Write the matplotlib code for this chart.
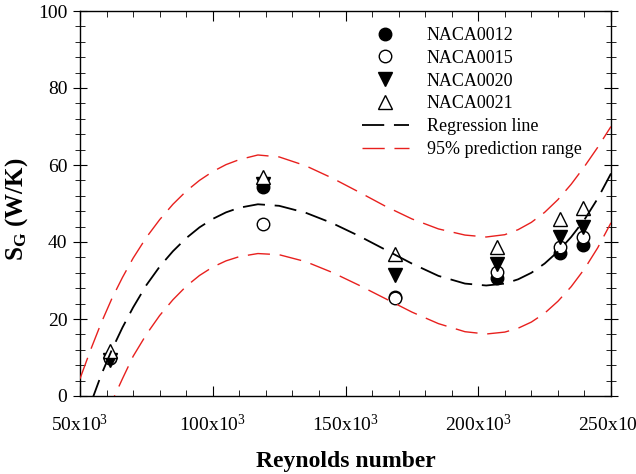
import numpy as np
import matplotlib
matplotlib.use("Agg")
import matplotlib.pyplot as plt
from matplotlib.ticker import MultipleLocator

plt.rcParams['font.family'] = ['Liberation Serif', 'DejaVu Serif']
plt.rcParams['mathtext.fontset'] = 'custom'
plt.rcParams['mathtext.rm'] = 'Liberation Serif'
plt.rcParams['mathtext.bf'] = 'Liberation Serif:bold'
plt.rcParams['lines.scale_dashes'] = False

# Reynolds number of the measured points (x10^3)
re_pts = [61.3, 119.0, 168.6, 206.9, 230.8, 239.3]
naca0012 = [10.0, 54.3, 25.8, 30.6, 37.1, 39.2]
naca0015 = [9.9, 44.6, 25.4, 32.3, 38.8, 41.2]
naca0020 = [9.4, 55.0, 31.4, 34.3, 41.2, 43.8]
naca0021 = [11.8, 56.9, 37.0, 38.8, 45.9, 48.8]

# regression line and 95 % prediction band (x10^3)
curve_x = [50, 54, 58, 62, 66, 70, 75, 80, 85, 90, 95, 100, 105, 110, 117,
           125, 135, 145, 155, 165, 175, 185, 195, 203, 210, 215, 220, 225,
           230, 235, 240, 245, 250]
reg_y = [-9.0, -2.0, 5.5, 12.0, 17.8, 23.0, 28.8, 33.6, 37.6, 41.0, 43.8,
         46.0, 47.7, 48.9, 49.8, 49.4, 47.6, 44.9, 41.6, 38.0, 34.4, 31.2,
         29.2, 28.7, 29.2, 30.3, 32.0, 34.4, 37.5, 41.3, 45.8, 51.3, 57.8]
upper_y = [4.5, 12.0, 19.0, 25.3, 30.8, 35.8, 41.2, 45.8, 49.8, 53.2, 56.0,
           58.3, 60.1, 61.4, 62.6, 62.1, 59.8, 56.6, 53.0, 49.3, 46.0, 43.4,
           41.8, 41.3, 41.9, 43.2, 45.1, 47.7, 51.0, 55.0, 59.6, 64.6, 70.0]
lower_y = [-22.0, -15.0, -8.5, -1.5, 4.5, 10.3, 16.0, 20.9, 25.0, 28.5, 31.3,
           33.5, 35.1, 36.2, 37.0, 36.7, 34.9, 32.1, 28.8, 25.3, 21.8, 18.8,
           16.7, 16.1, 16.6, 17.6, 19.2, 21.5, 24.6, 28.4, 33.0, 38.5, 45.0]

xticks = [50, 100, 150, 200, 250]
xtick_labels = [r'$\mathregular{%dx10^3}$' % v for v in xticks]

fig = plt.figure(figsize=(6.36, 4.74), dpi=100)
ax = fig.add_axes([80 / 636, 1 - 396 / 474, 531 / 636, 385 / 474])

ms = 9
ax.plot(re_pts, naca0012, 'o', ms=ms, mfc='black', mec='black', ls='none',
        label='NACA0012', zorder=3)
ax.plot(re_pts, naca0015, 'o', ms=ms, mfc='white', mec='black', mew=1.0,
        ls='none', label='NACA0015', zorder=3)
ax.plot(re_pts, naca0020, 'v', ms=ms + 0.5, mfc='black', mec='black',
        ls='none', label='NACA0020', zorder=3)
ax.plot(re_pts, naca0021, '^', ms=ms + 0.5, mfc='white', mec='black',
        mew=1.0, ls='none', label='NACA0021', zorder=3)

ax.plot(curve_x, reg_y, color='black', lw=1.3, dashes=[16, 7],
        label='Regression line', zorder=4)
ax.plot(curve_x, upper_y, color='#e8201e', lw=1.0, dashes=[16, 7],
        label='95% prediction range', zorder=4)
ax.plot(curve_x, lower_y, color='#e8201e', lw=1.0, dashes=[16, 7], zorder=4)

ax.set_xlim(50, 250)
ax.set_ylim(0, 100)
ax.set_xticks(xticks)
ax.set_xticklabels(xtick_labels)
ax.xaxis.set_minor_locator(MultipleLocator(10))
ax.yaxis.set_major_locator(MultipleLocator(20))
ax.yaxis.set_minor_locator(MultipleLocator(4))

ax.tick_params(axis='x', which='both', direction='in', top=True,
               labelsize=14, pad=13)
ax.tick_params(axis='x', which='major', length=7)
ax.tick_params(axis='x', which='minor', length=4)
ax.tick_params(axis='y', which='both', direction='inout', right=True,
               labelsize=14, pad=4)
ax.tick_params(axis='y', which='major', length=10)
ax.tick_params(axis='y', which='minor', length=7)
for sp in ax.spines.values():
    sp.set_linewidth(1.0)

ax.set_xlabel('Reynolds number', fontsize=17, fontweight='bold')
ax.xaxis.set_label_coords(0.5, -0.171)
ax.xaxis.label.set_va('center')
ax.set_ylabel(r'$\mathbf{S_G}$ (W/K)', fontsize=18, fontweight='bold')
ax.yaxis.set_label_coords(-0.094, 0.485)

ax.legend(loc='upper left', bbox_to_anchor=(362 / 636, 1 - 27 / 474),
          bbox_transform=fig.transFigure, frameon=False, fontsize=13,
          handlelength=2.6, handletextpad=1.0, labelspacing=0.32,
          borderpad=0, borderaxespad=0)

fig.savefig('out.png', dpi=100)
